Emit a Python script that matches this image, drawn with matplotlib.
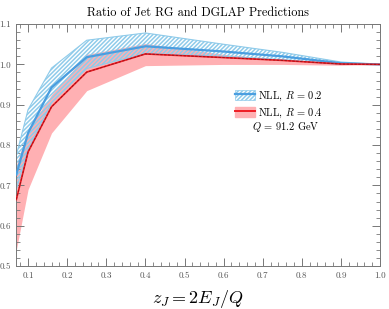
"""
Ratio of jet RG and DGLAP predictions vs z_J, NLL bands for R=0.2 and R=0.4.
"""

import matplotlib
matplotlib.use("Agg")
import matplotlib.pyplot as plt
from matplotlib.ticker import MultipleLocator, FormatStrFormatter
from matplotlib.patches import Patch
from matplotlib.lines import Line2D

plt.rcParams["font.family"] = ["cmr10", "DejaVu Serif"]
plt.rcParams["mathtext.fontset"] = "cm"
plt.rcParams["axes.formatter.use_mathtext"] = True
plt.rcParams["hatch.linewidth"] = 1.1

z = [0.07, 0.1, 0.16, 0.25, 0.4, 0.6, 0.75, 0.9, 1.0]

# R = 0.2 (hatched blue band)
r02_hi = [0.775, 0.888, 0.991, 1.060, 1.078, 1.050, 1.030, 1.006, 1.0]
r02_mid = [0.727, 0.830, 0.943, 1.018, 1.045, 1.032, 1.020, 1.003, 1.0]
r02_lo = [0.690, 0.790, 0.905, 0.990, 1.027, 1.020, 1.012, 1.000, 1.0]

# R = 0.4 (solid pink band)
r04_hi = [0.750, 0.840, 0.925, 1.025, 1.052, 1.025, 1.012, 1.002, 1.0]
r04_mid = [0.665, 0.783, 0.895, 0.981, 1.026, 1.017, 1.010, 1.001, 1.0]
r04_lo = [0.540, 0.690, 0.830, 0.935, 0.997, 1.000, 1.000, 0.998, 1.0]

BLUE = "#4a9ee0"
HATCH = "#8fcbea"
RED = "#ee1c24"
PINK = "#ffb0b3"
HATCH_PAT = "/" * 8

fig = plt.figure(figsize=(3.89, 3.09), dpi=100)
ax = fig.add_axes([0.042, 0.139, 0.935, 0.783])

ax.fill_between(z, r04_lo, r04_hi, color=PINK, linewidth=0, zorder=1)
ax.fill_between(z, r02_lo, r02_hi, facecolor="none", edgecolor=HATCH,
                hatch=HATCH_PAT, linewidth=0.8, zorder=2)
ax.plot(z, r02_mid, color=BLUE, linewidth=1.6, zorder=3)
ax.plot(z, r04_mid, color=RED, linewidth=1.2, zorder=4)
ax.plot(z, r04_mid, color="#a01418", linewidth=0.7, dashes=(2.5, 1.5), zorder=5)

# legend proxies
h02 = (Patch(facecolor="white", edgecolor=HATCH, hatch=HATCH_PAT, linewidth=0.5),
       Line2D([0], [0], color=BLUE, linewidth=1.6))
h04 = (Patch(facecolor=PINK, edgecolor=PINK),
       Line2D([0], [0], color=RED, linewidth=1.4))
ax.legend([h02, h04], [r"NLL, $R\,=\,0.2$", r"NLL, $R\,=\,0.4$"],
          loc="upper left", bbox_to_anchor=(0.58, 0.76), frameon=False,
          fontsize=7.5, handlelength=2.0, handleheight=1.2,
          handletextpad=0.2, borderpad=0.2, labelspacing=0.35)
ax.text(0.74, 0.575, r"$Q\,=\,91.2$ GeV", transform=ax.transAxes,
        ha="center", va="center", fontsize=7.5)

ax.set_xlim(0.07, 1.0)
ax.set_ylim(0.5, 1.1)
ax.xaxis.set_major_locator(MultipleLocator(0.1))
ax.xaxis.set_minor_locator(MultipleLocator(0.02))
ax.yaxis.set_major_locator(MultipleLocator(0.1))
ax.yaxis.set_minor_locator(MultipleLocator(0.02))
ax.xaxis.set_major_formatter(FormatStrFormatter("%.1f"))
ax.yaxis.set_major_formatter(FormatStrFormatter("%.1f"))

ax.tick_params(which="both", direction="in", top=True, right=True,
               color="#777777", labelcolor="#555555", labelsize=6.5)
ax.tick_params(which="major", length=6, width=0.7, pad=4)
ax.tick_params(which="minor", length=3, width=0.6)
for s in ax.spines.values():
    s.set_color("#777777")
    s.set_linewidth(0.7)

ax.set_title("Ratio of Jet RG and DGLAP Predictions", fontsize=8.8, pad=6)
ax.set_xlabel(r"$z_J = 2E_J/Q$", fontsize=13, labelpad=6)

plt.savefig("out.png", dpi=100)
